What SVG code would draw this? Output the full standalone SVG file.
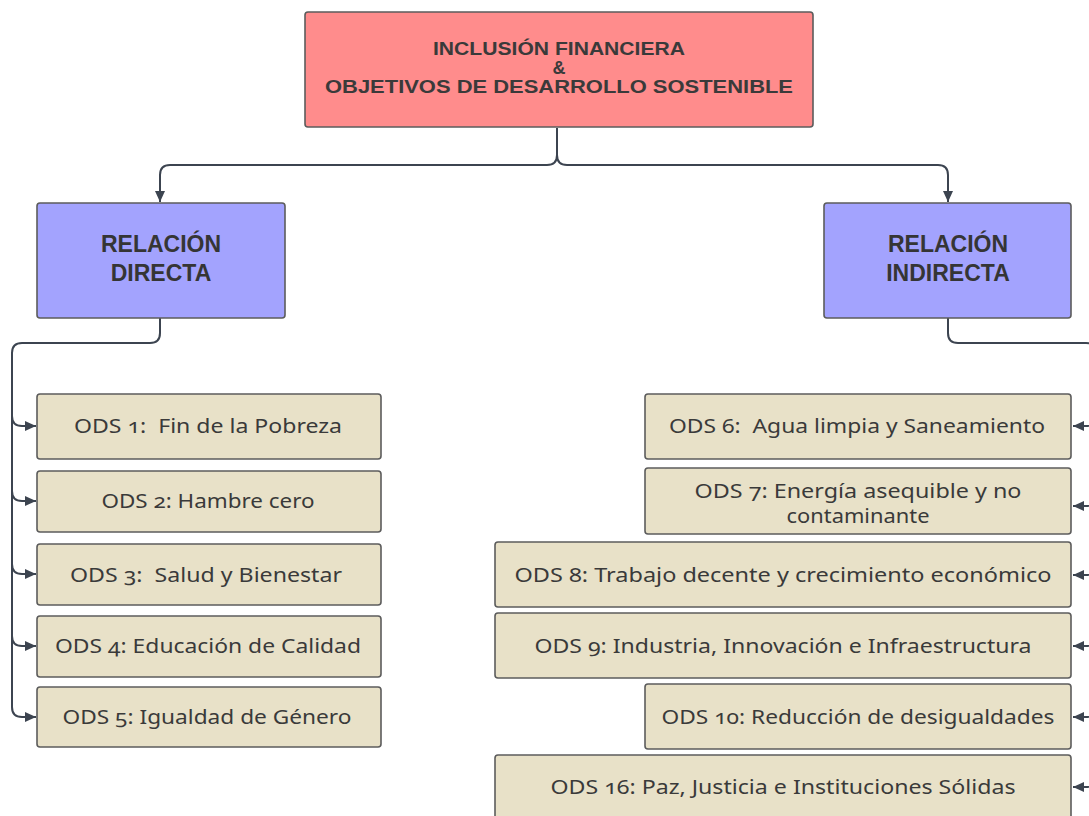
<svg xmlns="http://www.w3.org/2000/svg" width="1089" height="816" viewBox="0 0 1089 816">
<style>
.box{stroke:#5c5c5c;stroke-width:1.6}
.title{fill:#ff8c8c}
.rel{fill:#a3a3fe}
.ods{fill:#e8e1c8}
.tt{font-family:"Liberation Sans",Arial,sans-serif;font-weight:bold;font-size:18px;fill:#3a3a3a;text-anchor:middle}
.rt{font-family:"Liberation Sans",Arial,sans-serif;font-weight:bold;font-size:23px;fill:#353535;text-anchor:middle}
.ot{font-family:"Noto Sans","DejaVu Sans",sans-serif;font-size:19px;fill:#3a3a3a;text-anchor:middle;font-feature-settings:"onum" 1;font-variant-numeric:oldstyle-nums}
.c{fill:none;stroke:#3c4450;stroke-width:2}
</style>
<defs>
<marker id="ah" markerUnits="userSpaceOnUse" markerWidth="13" markerHeight="13" viewBox="0 0 13 13" refX="12" refY="6.5" orient="auto">
<path d="M1,1.5 L12,6.5 L1,11.5 Z" fill="#3c4450"/>
</marker>
</defs>
<rect width="1089" height="816" fill="#ffffff"/>
<g id="connectors">
<path class="c" d="M557 128 V155 Q557 165 547 165 H170 Q160 165 160 175 V202" marker-end="url(#ah)"/>
<path class="c" d="M557 155 Q557 165 567 165 H938 Q948 165 948 175 V202" marker-end="url(#ah)"/>
<path class="c" d="M160 318 V333 Q160 343 150 343 H22 Q12 343 12 353 V707 Q12 717 22 717 H36" marker-end="url(#ah)"/>
<path class="c" d="M12 416 Q12 426 22 426 H36" marker-end="url(#ah)"/>
<path class="c" d="M12 491 Q12 501 22 501 H36" marker-end="url(#ah)"/>
<path class="c" d="M12 564 Q12 574 22 574 H36" marker-end="url(#ah)"/>
<path class="c" d="M12 636 Q12 646 22 646 H36" marker-end="url(#ah)"/>
<path class="c" d="M948 318 V333 Q948 343 958 343 H1086 Q1096 343 1096 353 V800"/>
<path class="c" d="M1096 416 Q1096 426 1086 426 H1073" marker-end="url(#ah)"/>
<path class="c" d="M1096 496 Q1096 506 1086 506 H1073" marker-end="url(#ah)"/>
<path class="c" d="M1096 565 Q1096 575 1086 575 H1073" marker-end="url(#ah)"/>
<path class="c" d="M1096 636 Q1096 646 1086 646 H1073" marker-end="url(#ah)"/>
<path class="c" d="M1096 707 Q1096 717 1086 717 H1073" marker-end="url(#ah)"/>
<path class="c" d="M1096 777 Q1096 787 1086 787 H1073" marker-end="url(#ah)"/>
</g>
<g id="n-title">
<rect class="box title" x="305" y="12" width="508" height="115" rx="3"/>
<text class="tt" x="559" y="55" textLength="252" lengthAdjust="spacingAndGlyphs">INCLUSIÓN FINANCIERA</text>
<text class="tt" x="559" y="74">&amp;</text>
<text class="tt" x="559" y="93" textLength="468" lengthAdjust="spacingAndGlyphs">OBJETIVOS DE DESARROLLO SOSTENIBLE</text>
</g>
<g id="n-directa">
<rect class="box rel" x="37" y="203" width="248" height="115" rx="3"/>
<text class="rt" x="161" y="252">RELACIÓN</text>
<text class="rt" x="161" y="281">DIRECTA</text>
</g>
<g id="n-indirecta">
<rect class="box rel" x="824" y="203" width="247" height="115" rx="3"/>
<text class="rt" x="948" y="252">RELACIÓN</text>
<text class="rt" x="948" y="281">INDIRECTA</text>
</g>
<g id="n-ods1">
<rect class="box ods" x="37" y="394" width="344" height="65" rx="3"/>
<text class="ot" x="208" y="433" textLength="268" lengthAdjust="spacingAndGlyphs" xml:space="preserve">ODS 1:  Fin de la Pobreza</text>
</g>
<g id="n-ods2">
<rect class="box ods" x="37" y="471" width="344" height="61" rx="3"/>
<text class="ot" x="208" y="508" textLength="213" lengthAdjust="spacingAndGlyphs">ODS 2: Hambre cero</text>
</g>
<g id="n-ods3">
<rect class="box ods" x="37" y="544" width="344" height="61" rx="3"/>
<text class="ot" x="206" y="582" textLength="272" lengthAdjust="spacingAndGlyphs" xml:space="preserve">ODS 3:  Salud y Bienestar</text>
</g>
<g id="n-ods4">
<rect class="box ods" x="37" y="616" width="344" height="61" rx="3"/>
<text class="ot" x="208" y="653" textLength="306" lengthAdjust="spacingAndGlyphs">ODS 4: Educación de Calidad</text>
</g>
<g id="n-ods5">
<rect class="box ods" x="37" y="687" width="344" height="60" rx="3"/>
<text class="ot" x="207" y="724" textLength="289" lengthAdjust="spacingAndGlyphs">ODS 5: Igualdad de Género</text>
</g>
<g id="n-ods6">
<rect class="box ods" x="645" y="394" width="426" height="65" rx="3"/>
<text class="ot" x="857" y="433" textLength="376" lengthAdjust="spacingAndGlyphs" xml:space="preserve">ODS 6:  Agua limpia y Saneamiento</text>
</g>
<g id="n-ods7">
<rect class="box ods" x="645" y="468" width="426" height="66" rx="3"/>
<text class="ot" x="858" y="498" textLength="327" lengthAdjust="spacingAndGlyphs">ODS 7: Energía asequible y no</text>
<text class="ot" x="858" y="523" textLength="143" lengthAdjust="spacingAndGlyphs">contaminante</text>
</g>
<g id="n-ods8">
<rect class="box ods" x="495" y="542" width="576" height="65" rx="3"/>
<text class="ot" x="783" y="582" textLength="537" lengthAdjust="spacingAndGlyphs">ODS 8: Trabajo decente y crecimiento económico</text>
</g>
<g id="n-ods9">
<rect class="box ods" x="495" y="613" width="576" height="65" rx="3"/>
<text class="ot" x="783" y="653" textLength="497" lengthAdjust="spacingAndGlyphs">ODS 9: Industria, Innovación e Infraestructura</text>
</g>
<g id="n-ods10">
<rect class="box ods" x="645" y="684" width="426" height="65" rx="3"/>
<text class="ot" x="858" y="724" textLength="393" lengthAdjust="spacingAndGlyphs">ODS 10: Reducción de desigualdades</text>
</g>
<g id="n-ods16">
<rect class="box ods" x="495" y="755" width="576" height="70" rx="3"/>
<text class="ot" x="783" y="794" textLength="465" lengthAdjust="spacingAndGlyphs">ODS 16: Paz, Justicia e Instituciones Sólidas</text>
</g>
</svg>
